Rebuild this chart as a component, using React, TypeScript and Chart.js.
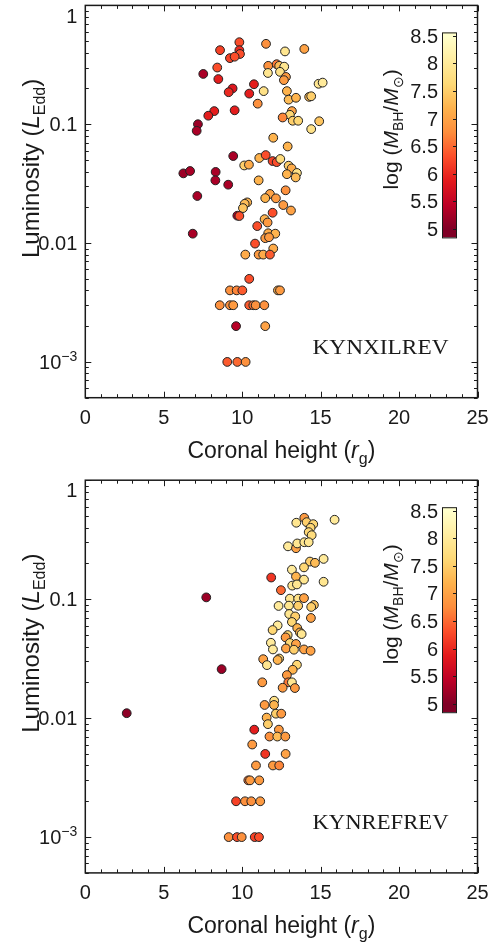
import React, { useEffect, useRef } from 'react';
import { Chart, registerables } from 'chart.js';

Chart.register(...registerables);

// ---------- DATA: KYNXILREV (top panel) ----------
const xilHeight = [
  9.82, 8.59, 9.82, 9.86, 9.22, 9.52, 11.52, 12.73, 13.96, 8.41,
  7.52, 8.48, 11.66, 12.2, 12.36, 12.68, 11.64, 12.41, 12.79, 12.66,
  10.75, 9.39, 9.14, 10.45, 11.37, 14.87, 15.13, 12.85, 12.96, 13.43,
  14.27, 14.4, 10.99, 8.22, 7.84, 9.52, 13.17, 13.04, 12.58, 13.22,
  13.57, 14.91, 14.4, 7.18, 7.1, 11.98, 12.9, 9.43, 10.13, 10.43,
  11.09, 11.5, 11.94, 12.2, 12.43, 12.96, 13.15, 13.49, 12.85, 13.41,
  6.25, 6.68, 8.31, 8.29, 9.11, 11.05, 7.14, 11.77, 11.47, 12.15,
  12.77, 10.32, 10.16, 10.05, 12.62, 13.11, 11.94, 9.69, 9.82, 11.43,
  11.62, 10.96, 6.85, 11.66, 12.11, 11.47, 11.71, 10.82, 11.98, 10.2,
  11.05, 11.34, 11.77, 10.45, 9.22, 9.65, 10.01, 12.28, 12.41, 8.57,
  9.22, 9.43, 10.45, 10.71, 10.86, 11.41, 9.61, 11.47, 9.05, 9.69,
  10.22,
];
const xilLum = [
  0.49, 0.42, 0.42, 0.39, 0.36, 0.37, 0.475, 0.41, 0.43, 0.3,
  0.265, 0.24, 0.31, 0.32, 0.31, 0.305, 0.27, 0.276, 0.25, 0.235,
  0.217, 0.2, 0.186, 0.181, 0.19, 0.219, 0.224, 0.19, 0.161, 0.167,
  0.17, 0.172, 0.149, 0.129, 0.118, 0.131, 0.129, 0.12, 0.114, 0.107,
  0.107, 0.106, 0.091, 0.1, 0.088, 0.077, 0.065, 0.054, 0.045, 0.0457,
  0.052, 0.055, 0.049, 0.048, 0.051, 0.0448, 0.0425, 0.0389, 0.038, 0.0357,
  0.0386, 0.0404, 0.0397, 0.0337, 0.031, 0.0337, 0.0249, 0.0259, 0.0239, 0.0238,
  0.0278, 0.022, 0.0214, 0.0197, 0.0209, 0.0188, 0.018, 0.017, 0.0169, 0.0159,
  0.0149, 0.0139, 0.012, 0.0121, 0.012, 0.011, 0.0112, 0.0099, 0.009, 0.008,
  0.008, 0.008, 0.008, 0.005, 0.004, 0.004, 0.004, 0.004, 0.004, 0.003,
  0.003, 0.003, 0.003, 0.003, 0.003, 0.003, 0.002, 0.002, 0.001, 0.001,
  0.001,
];
const xilMass = [
  6.3, 6.2, 6.0, 6.3, 6.2, 6.3, 6.8, 7.9, 7.0, 6.3,
  5.3, 5.9, 6.8, 6.6, 7.3, 7.9, 7.9, 7.8, 6.9, 6.9,
  5.9, 5.8, 6.0, 5.9, 7.8, 7.9, 8.0, 7.2, 7.3, 7.2,
  7.3, 7.5, 6.8, 5.9, 5.9, 5.9, 7.0, 7.6, 6.7, 7.5,
  7.6, 7.4, 7.8, 5.2, 5.3, 7.2, 7.2, 5.3, 7.5, 7.1,
  7.2, 6.3, 6.2, 6.3, 7.7, 7.5, 7.1, 7.8, 7.2, 7.3,
  5.2, 5.3, 5.3, 5.3, 5.3, 7.2, 5.3, 7.0, 7.2, 6.9,
  6.8, 7.2, 7.3, 7.4, 6.9, 7.0, 6.3, 5.4, 6.3, 7.2,
  6.9, 6.3, 5.3, 7.1, 7.2, 6.9, 6.9, 6.3, 7.1, 7.1,
  6.9, 7.1, 6.4, 6.3, 6.8, 6.7, 6.4, 7.1, 6.9, 6.8,
  6.8, 6.9, 6.4, 6.6, 6.8, 6.8, 5.4, 7.0, 6.4, 6.5,
  6.8,
];

// ---------- DATA: KYNREFREV (bottom panel) ----------
const refHeight = [
  2.64, 7.71, 8.69, 13.96, 13.45, 14.11, 14.53, 15.89, 14.36, 14.24,
  14.43, 12.92, 13.43, 13.51, 13.96, 14.24, 15.19, 14.32, 14.64, 13.94,
  13.17, 11.85, 13.43, 13.94, 15.19, 12.47, 13.19, 13.49, 13.04, 13.57,
  13.94, 12.32, 12.98, 13.57, 14.57, 14.4, 13.0, 13.38, 14.38, 13.17,
  12.26, 11.94, 13.51, 13.68, 13.79, 12.9, 12.77, 11.83, 13.04, 13.43,
  11.96, 12.79, 13.3, 13.94, 14.36, 11.34, 11.58, 12.36, 12.26, 13.49,
  13.22, 12.85, 11.28, 12.94, 13.17, 12.58, 13.36, 12.04, 11.43, 12.03,
  11.56, 11.64, 12.15, 12.49, 10.77, 12.34, 11.74, 12.24, 12.75, 10.64,
  11.47, 12.77, 10.88, 11.96, 12.36, 10.39, 10.5, 11.09, 9.61, 10.18,
  10.58, 11.15, 9.14, 9.67, 9.97, 10.8, 11.07,
];
const refLum = [
  0.011, 0.1035, 0.0258, 0.483, 0.439, 0.444, 0.427, 0.465, 0.398, 0.366,
  0.345, 0.278, 0.268, 0.294, 0.301, 0.301, 0.218, 0.207, 0.202, 0.185,
  0.177, 0.152, 0.155, 0.146, 0.14, 0.119, 0.13, 0.133, 0.101, 0.101,
  0.102, 0.0877, 0.0882, 0.088, 0.0894, 0.086, 0.075, 0.0716, 0.0695, 0.0643,
  0.0602, 0.055, 0.0572, 0.0525, 0.0509, 0.0499, 0.0477, 0.043, 0.0428, 0.042,
  0.0378, 0.0385, 0.0376, 0.0378, 0.0368, 0.0313, 0.0279, 0.0317, 0.0308, 0.0281,
  0.0255, 0.023, 0.02, 0.02, 0.02, 0.018, 0.0179, 0.014, 0.0129, 0.0129,
  0.0101, 0.0089, 0.0109, 0.0109, 0.008, 0.008, 0.007, 0.007, 0.007, 0.006,
  0.005, 0.005, 0.004, 0.004, 0.004, 0.003, 0.003, 0.003, 0.002, 0.002,
  0.002, 0.002, 0.001, 0.001, 0.001, 0.001, 0.001,
];
const refMass = [
  5.1, 5.2, 5.2, 6.9, 7.9, 7.5, 7.6, 8.0, 7.6, 7.6,
  7.7, 8.0, 7.0, 7.9, 7.9, 7.9, 8.0, 7.5, 7.3, 7.6,
  8.0, 6.1, 7.2, 7.9, 7.9, 6.5, 7.9, 7.9, 7.9, 7.8,
  7.0, 8.0, 7.9, 7.5, 7.4, 7.5, 7.9, 7.5, 7.0, 7.6,
  8.0, 7.6, 7.2, 7.2, 7.9, 7.6, 6.9, 8.0, 7.6, 7.0,
  8.0, 7.0, 7.5, 7.0, 7.0, 7.0, 7.9, 7.6, 7.2, 7.6,
  7.2, 6.9, 6.9, 6.6, 7.9, 6.9, 6.9, 7.8, 6.9, 7.2,
  7.2, 7.5, 7.5, 6.9, 5.9, 6.9, 6.8, 7.3, 6.9, 6.9,
  6.1, 7.0, 6.9, 6.9, 6.7, 6.6, 6.9, 6.9, 6.2, 6.8,
  6.8, 6.9, 6.8, 6.3, 6.8, 6.2, 6.3,
];

// ---------- AXES / TICKS ----------
const heightRange = [0, 25];
const heightTicks = [0, 5, 10, 15, 20, 25];
const lumRange = [5e-4, 1];
const lumTicks = [1, 0.1, 0.01, 0.001];
const lumTickLabels = ['1', '0.1', '0.01', '10^-3'];
const massTicks = [5, 5.5, 6, 6.5, 7, 7.5, 8, 8.5];
const massTickLabels = ['5', '5.5', '6', '6.5', '7', '7.5', '8', '8.5'];
const massColorRange = [5, 8.5];
const colorbarRange = [4.85, 8.56];

const SANS = '"Liberation Sans", Arial, Helvetica, sans-serif';
const SERIF = '"Liberation Serif", "Times New Roman", serif';
const INK = '#1a1a1a';

const YLORRD = ['#800026', '#bd0026', '#e31a1c', '#fc4e2a', '#fd8d3c', '#feb24c', '#fed976', '#ffeda0', '#ffffcc'];

function hexRgb(h: string) {
  return [parseInt(h.slice(1, 3), 16), parseInt(h.slice(3, 5), 16), parseInt(h.slice(5, 7), 16)];
}
function massColor(m: number) {
  let t = (m - massColorRange[0]) / (massColorRange[1] - massColorRange[0]);
  t = Math.max(0, Math.min(1, t));
  const f = t * (YLORRD.length - 1);
  const i = Math.min(YLORRD.length - 2, Math.floor(f));
  const u = f - i;
  const a = hexRgb(YLORRD[i]);
  const b = hexRgb(YLORRD[i + 1]);
  const c = a.map((v, k) => Math.round(v + (b[k] - v) * u));
  return `rgb(${c[0]},${c[1]},${c[2]})`;
}

type Part = { t: string; it?: boolean; sub?: boolean; sup?: boolean };

function partFont(p: Part, size: number, family = SANS) {
  const s = p.sub || p.sup ? Math.round(size * 0.68) : size;
  return `${p.it ? 'italic ' : ''}${s}px ${family}`;
}

function drawRich(ctx: CanvasRenderingContext2D, parts: Part[], x: number, y: number, size: number, align: 'left' | 'center' | 'right') {
  const widths = parts.map((p) => {
    ctx.font = partFont(p, size);
    return ctx.measureText(p.t).width;
  });
  const total = widths.reduce((a, b) => a + b, 0);
  let cx = align === 'center' ? x - total / 2 : align === 'right' ? x - total : x;
  ctx.textAlign = 'left';
  ctx.textBaseline = 'alphabetic';
  const base = y + size * 0.36;
  parts.forEach((p, i) => {
    ctx.font = partFont(p, size);
    const dy = p.sub ? size * 0.27 : p.sup ? -size * 0.42 : 0;
    ctx.fillText(p.t, cx, base + dy);
    cx += widths[i];
  });
}

function lumLabelParts(s: string): Part[] {
  if (s.includes('^')) {
    const [b, e] = s.split('^');
    return [{ t: b }, { t: e.replace('-', '\u2212'), sup: true }];
  }
  return [{ t: s }];
}

function makePlugin(modelName: string) {
  return {
    id: 'panelDecor',
    afterDatasetsDraw(chart: any) {
      const ctx: CanvasRenderingContext2D = chart.ctx;
      const xs = chart.scales.x;
      const ys = chart.scales.y;
      const { left, right, top, bottom } = chart.chartArea;
      ctx.save();

      // frame
      ctx.strokeStyle = INK;
      ctx.lineWidth = 1.5;
      ctx.strokeRect(left, top, right - left, bottom - top);

      // x ticks (inward, bottom & top)
      ctx.lineWidth = 1;
      for (let v = heightRange[0]; v <= heightRange[1]; v += 1) {
        const px = Math.round(xs.getPixelForValue(v)) + 0.5;
        const len = v % 5 === 0 ? 6 : 3.5;
        ctx.beginPath();
        ctx.moveTo(px, bottom);
        ctx.lineTo(px, bottom - len);
        ctx.moveTo(px, top);
        ctx.lineTo(px, top + len);
        ctx.stroke();
      }
      // y ticks (log, inward, left & right)
      for (let d = -4; d <= 0; d++) {
        for (let k = 1; k <= 9; k++) {
          const v = k * Math.pow(10, d);
          if (v < lumRange[0] * 0.999 || v > lumRange[1] * 1.001) continue;
          const py = Math.round(ys.getPixelForValue(v)) + 0.5;
          const len = k === 1 ? 6 : 3.5;
          ctx.beginPath();
          ctx.moveTo(left, py);
          ctx.lineTo(left + len, py);
          ctx.moveTo(right, py);
          ctx.lineTo(right - len, py);
          ctx.stroke();
        }
      }

      ctx.fillStyle = INK;
      // x tick labels
      ctx.font = `20px ${SANS}`;
      ctx.textAlign = 'center';
      ctx.textBaseline = 'middle';
      heightTicks.forEach((v) => {
        ctx.fillText(String(v), xs.getPixelForValue(v), bottom + 21);
      });
      // y tick labels
      lumTicks.forEach((v, i) => {
        let py = ys.getPixelForValue(v);
        if (py < top + 10) py = top + 10;
        drawRich(ctx, lumLabelParts(lumTickLabels[i]), left - 8, py, 20, 'right');
      });

      // axis titles
      drawRich(ctx, [{ t: 'Coronal height (' }, { t: 'r', it: true }, { t: 'g', sub: true }, { t: ')' }], (left + right) / 2, bottom + 52, 23, 'center');
      ctx.save();
      ctx.translate(30, top + 163);
      ctx.rotate(-Math.PI / 2);
      drawRich(ctx, [{ t: 'Luminosity (' }, { t: 'L', it: true }, { t: 'Edd', sub: true }, { t: ')' }], 0, 0, 24, 'center');
      ctx.restore();

      // colorbar
      const cbL = right - 35.5;
      const cbW = 14;
      const cbT = top + 27;
      const cbB = top + 232;
      const cbY = (m: number) => cbB - ((m - colorbarRange[0]) / (colorbarRange[1] - colorbarRange[0])) * (cbB - cbT);
      const g = ctx.createLinearGradient(0, cbY(massColorRange[0]), 0, cbY(massColorRange[1]));
      YLORRD.forEach((c, i) => g.addColorStop(i / (YLORRD.length - 1), c));
      ctx.fillStyle = g;
      ctx.fillRect(cbL, cbT, cbW, cbB - cbT);
      ctx.strokeStyle = INK;
      ctx.lineWidth = 1;
      ctx.strokeRect(cbL + 0.5, cbT + 0.5, cbW, cbB - cbT);
      ctx.fillStyle = INK;
      ctx.font = `20px ${SANS}`;
      ctx.textAlign = 'right';
      ctx.textBaseline = 'middle';
      massTicks.forEach((m, i) => {
        const py = Math.round(cbY(m)) + 0.5;
        ctx.beginPath();
        ctx.moveTo(cbL + cbW, py);
        ctx.lineTo(cbL + cbW - 3, py);
        ctx.stroke();
        ctx.fillText(massTickLabels[i], cbL - 4, py + 1);
      });
      ctx.save();
      ctx.translate(cbL - 52, top + 124);
      ctx.rotate(-Math.PI / 2);
      drawRich(ctx, [{ t: 'log (' }, { t: 'M', it: true }, { t: 'BH', sub: true }, { t: '/' }, { t: 'M', it: true }, { t: '\u2299', sub: true }, { t: ')' }], 0, 0, 21, 'center');
      ctx.restore();

      // model name
      ctx.font = `20px ${SERIF}`;
      const w = ctx.measureText(modelName).width;
      const target = 136;
      ctx.save();
      ctx.translate(right - 29 - target, bottom - 49);
      ctx.scale(target / w, 1);
      ctx.textAlign = 'left';
      ctx.textBaseline = 'middle';
      ctx.fillText(modelName, 0, 0);
      ctx.restore();

      ctx.restore();
    },
  };
}

function Panel({ heights, lums, masses, name, padTop, padBottom }: { heights: number[]; lums: number[]; masses: number[]; name: string; padTop: number; padBottom: number }) {
  const ref = useRef<HTMLCanvasElement | null>(null);
  useEffect(() => {
    if (!ref.current) return;
    const chart = new Chart(ref.current, {
      type: 'scatter',
      data: {
        datasets: [
          {
            data: heights.map((h, i) => ({ x: h, y: lums[i] })),
            pointBackgroundColor: masses.map(massColor),
            pointBorderColor: '#222',
            pointBorderWidth: 1,
            pointRadius: 4.4,
          },
        ],
      },
      options: {
        responsive: false,
        animation: false,
        events: [],
        layout: { padding: { left: 85.3, right: 18.5, top: padTop, bottom: padBottom } },
        plugins: { legend: { display: false }, tooltip: { enabled: false } },
        scales: {
          x: { type: 'linear', min: heightRange[0], max: heightRange[1], display: false },
          y: { type: 'logarithmic', min: lumRange[0], max: lumRange[1], display: false },
        },
      },
      plugins: [makePlugin(name)],
    });
    return () => chart.destroy();
  }, []);
  return <canvas ref={ref} width={496} height={471} style={{ display: 'block', width: 496, height: 471 }} />;
}

export default function App() {
  return (
    <div style={{ position: 'absolute', left: 0, top: 0, width: 496, height: 942, background: '#fff' }}>
      <Panel heights={xilHeight} lums={xilLum} masses={xilMass} name="KYNXILREV" padTop={5} padBottom={73.3} />
      <Panel heights={refHeight} lums={refLum} masses={refMass} name="KYNREFREV" padTop={9.2} padBottom={69.1} />
    </div>
  );
}
